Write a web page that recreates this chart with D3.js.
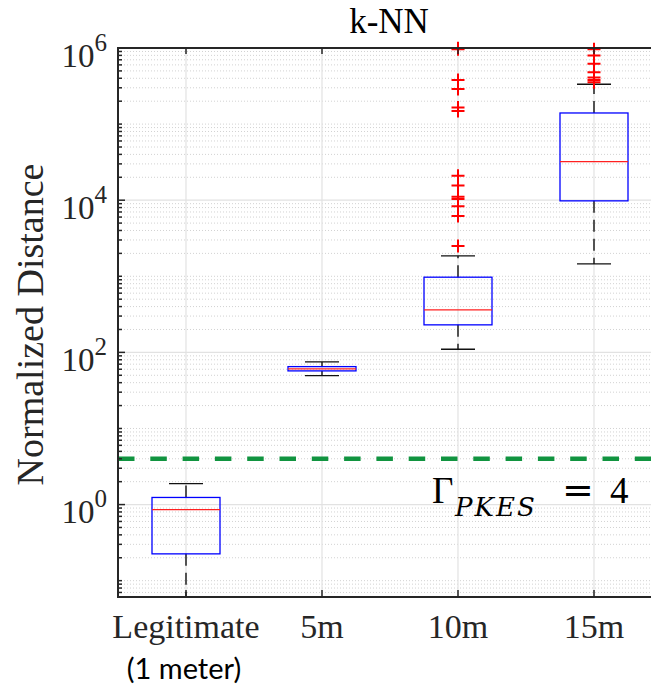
<!DOCTYPE html>
<html>
<head>
<meta charset="utf-8">
<script src="https://cdn.jsdelivr.net/npm/d3@7"></script>
<style>
  body { margin: 0; background: #fff; }
  svg { display: block; }
</style>
</head>
<body>
<div id="chart"></div>
<script>
// box plot data (log scale)
const categories = ["Legitimate", "5m", "10m", "15m"];
const subLabels = ["(1 meter)", "", "", ""];
const whiskerLow = [0.061, 49.5, 110, 1455];
const q1 = [0.225, 57.1, 230, 9800];
const medians = [0.86, 60.7, 362, 32100];
const q3 = [1.24, 65, 973, 140000];
const whiskerHigh = [1.89, 75, 1850, 334000];
const outliers10m = [960000, 990000, 381000, 290000, 165000, 149000, 21000, 15600, 11100, 10400, 8300, 6200, 2500];
const outliers15m = [960000, 795000, 620000, 480000, 410000, 380000, 355000];
const outliers = [[], [], outliers10m, outliers15m];
const threshold = 4;
const yTickValues = [1, 1e2, 1e4, 1e6];
const yTickExponents = ["0", "2", "4", "6"];

const width = 651, height = 687;
const plotLeft = 118, plotTop = 48, plotBottom = 597, plotRight = 662;
const serif = "'Liberation Serif', 'Times New Roman', serif";

const svg = d3.select("#chart").append("svg")
  .attr("width", width)
  .attr("height", height);

const x = d3.scaleLinear().domain([0.5, 4.5]).range([plotLeft, plotRight]);
const y = d3.scaleLog().domain([0.061, 1e6]).range([plotBottom, plotTop]);

// minor grid (dotted) and minor ticks
const minorVals = [];
for (let e = -2; e < 6; e++) {
  for (let m = 1; m <= 9; m++) {
    const v = m * Math.pow(10, e);
    if (v >= 0.061 && v <= 1e6 && !yTickValues.includes(v)) minorVals.push(v);
  }
}
const grid = svg.append("g");
grid.selectAll(".minor").data(minorVals).join("line")
  .attr("x1", plotLeft).attr("x2", plotRight)
  .attr("y1", d => y(d)).attr("y2", d => y(d))
  .attr("stroke", "#d2d2d2")
  .attr("stroke-width", 1)
  .attr("stroke-dasharray", "1,2");

// major grid
grid.selectAll(".majorY").data(yTickValues).join("line")
  .attr("x1", plotLeft).attr("x2", plotRight)
  .attr("y1", d => y(d)).attr("y2", d => y(d))
  .attr("stroke", "#e2e2e2")
  .attr("stroke-width", 1.2);
grid.selectAll(".majorX").data(categories).join("line")
  .attr("x1", (d, i) => x(i + 1)).attr("x2", (d, i) => x(i + 1))
  .attr("y1", plotTop).attr("y2", plotBottom)
  .attr("stroke", "#e2e2e2")
  .attr("stroke-width", 1.2);

// threshold line
svg.append("line")
  .attr("x1", plotLeft).attr("x2", plotRight)
  .attr("y1", y(threshold)).attr("y2", y(threshold))
  .attr("stroke", "#119440")
  .attr("stroke-width", 4.5)
  .attr("stroke-dasharray", "16.5,15.8");

// boxes
const boxW = 0.25, capW = 0.125;
const boxes = svg.append("g");
categories.forEach((c, i) => {
  const cx = x(i + 1);
  const g = boxes.append("g");
  // whiskers (dashed)
  g.append("line")
    .attr("x1", cx).attr("x2", cx)
    .attr("y1", y(q3[i])).attr("y2", y(whiskerHigh[i]))
    .attr("stroke", "#000").attr("stroke-width", 1.3)
    .attr("stroke-dasharray", "12,7");
  g.append("line")
    .attr("x1", cx).attr("x2", cx)
    .attr("y1", y(q1[i])).attr("y2", y(whiskerLow[i]))
    .attr("stroke", "#000").attr("stroke-width", 1.3)
    .attr("stroke-dasharray", "12,7");
  // caps
  [whiskerLow[i], whiskerHigh[i]].forEach(v => {
    g.append("line")
      .attr("x1", x(i + 1 - capW)).attr("x2", x(i + 1 + capW))
      .attr("y1", y(v)).attr("y2", y(v))
      .attr("stroke", "#111").attr("stroke-width", 1.3);
  });
  // box
  g.append("rect")
    .attr("x", x(i + 1 - boxW))
    .attr("y", y(q3[i]))
    .attr("width", x(i + 1 + boxW) - x(i + 1 - boxW))
    .attr("height", y(q1[i]) - y(q3[i]))
    .attr("fill", "none")
    .attr("stroke", "#0000ff")
    .attr("stroke-width", 1.3);
  // median
  g.append("line")
    .attr("x1", x(i + 1 - boxW)).attr("x2", x(i + 1 + boxW))
    .attr("y1", y(medians[i])).attr("y2", y(medians[i]))
    .attr("stroke", "#ff2020").attr("stroke-width", 1.3);
  // outliers as "+"
  outliers[i].forEach(v => {
    const py = y(v);
    g.append("path")
      .attr("d", `M${cx - 6.5},${py}H${cx + 6.5}M${cx},${py - 6.5}V${py + 6.5}`)
      .attr("stroke", "#ff0000")
      .attr("stroke-width", 2)
      .attr("fill", "none");
  });
});

// axes lines
const axisColor = "#262626";
svg.append("line").attr("x1", plotLeft).attr("x2", plotRight).attr("y1", plotBottom).attr("y2", plotBottom)
  .attr("stroke", axisColor).attr("stroke-width", 2);
svg.append("line").attr("x1", plotLeft).attr("x2", plotRight).attr("y1", plotTop).attr("y2", plotTop)
  .attr("stroke", axisColor).attr("stroke-width", 2);
svg.append("line").attr("x1", plotLeft).attr("x2", plotLeft).attr("y1", plotTop - 1).attr("y2", plotBottom + 1)
  .attr("stroke", axisColor).attr("stroke-width", 2);

// y ticks
svg.selectAll(".ytickMinor").data(minorVals).join("line")
  .attr("x1", plotLeft).attr("x2", plotLeft + 4)
  .attr("y1", d => y(d)).attr("y2", d => y(d))
  .attr("stroke", axisColor).attr("stroke-width", 1.5);
svg.selectAll(".ytickMajor").data(yTickValues).join("line")
  .attr("x1", plotLeft).attr("x2", plotLeft + 7)
  .attr("y1", d => y(d)).attr("y2", d => y(d))
  .attr("stroke", axisColor).attr("stroke-width", 1.5);

// x ticks (bottom and top)
categories.forEach((c, i) => {
  svg.append("line").attr("x1", x(i + 1)).attr("x2", x(i + 1))
    .attr("y1", plotBottom).attr("y2", plotBottom - 7)
    .attr("stroke", axisColor).attr("stroke-width", 1.5);
  svg.append("line").attr("x1", x(i + 1)).attr("x2", x(i + 1))
    .attr("y1", plotTop).attr("y2", plotTop + 6)
    .attr("stroke", axisColor).attr("stroke-width", 1.5);
});

// y tick labels 10^n
yTickValues.forEach((v, i) => {
  const t = svg.append("text")
    .attr("x", 107)
    .attr("y", y(v) + 18.5)
    .attr("text-anchor", "end")
    .attr("font-family", serif)
    .attr("font-size", 33)
    .attr("fill", "#262626");
  t.append("tspan").text("10");
  t.append("tspan")
    .attr("dy", -16)
    .attr("font-size", 25)
    .text(yTickExponents[i]);
});

// x tick labels
categories.forEach((c, i) => {
  svg.append("text")
    .attr("x", x(i + 1))
    .attr("y", 638)
    .attr("text-anchor", "middle")
    .attr("font-family", serif)
    .attr("font-size", 34)
    .attr("fill", "#262626")
    .text(c);
  if (subLabels[i]) {
    svg.append("text")
      .attr("x", x(i + 1) - 2)
      .attr("y", 679)
      .attr("text-anchor", "middle")
      .attr("font-family", "Lato, 'Open Sans', sans-serif")
      .attr("font-size", 29)
      .attr("fill", "#000")
      .text(subLabels[i]);
  }
});

// axis title
svg.append("text")
  .attr("transform", `translate(43,${(plotTop + plotBottom) / 2 + 2}) rotate(-90)`)
  .attr("text-anchor", "middle")
  .attr("font-family", serif)
  .attr("font-size", 38)
  .attr("fill", "#262626")
  .text("Normalized Distance");

// title
svg.append("text")
  .attr("x", (plotLeft + plotRight) / 2 - 1)
  .attr("y", 33)
  .attr("text-anchor", "middle")
  .attr("font-family", serif)
  .attr("font-size", 35)
  .attr("fill", "#000")
  .text("k-NN");

// threshold annotation  Γ_PKES = 4
const ann = svg.append("g").attr("fill", "#000");
ann.append("text").attr("x", 432).attr("y", 503)
  .attr("font-family", serif).attr("font-size", 37).text("Γ");
ann.append("text").attr("x", 455).attr("y", 516)
  .attr("font-family", "'DejaVu Serif', serif")
  .attr("font-size", 26).attr("font-style", "italic")
  .attr("letter-spacing", 2).text("PKES");
ann.append("text").attr("x", 578).attr("y", 503).attr("text-anchor", "middle")
  .attr("font-family", "'DejaVu Serif', serif")
  .attr("font-size", 38).text("=");
ann.append("text").attr("x", 610).attr("y", 503)
  .attr("font-family", serif).attr("font-size", 37).text("4");
</script>
</body>
</html>
